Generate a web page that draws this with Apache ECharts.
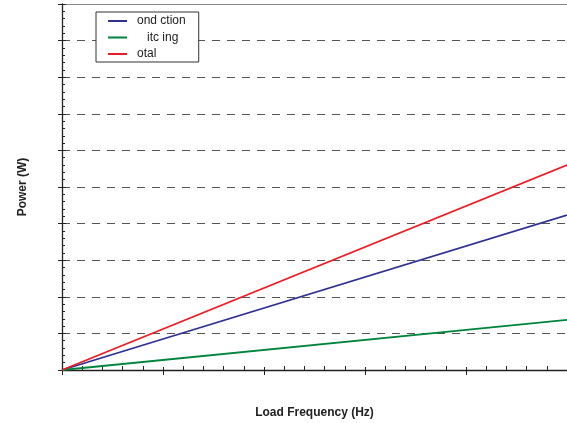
<!DOCTYPE html>
<html>
<head>
<meta charset="utf-8">
<script src="https://cdn.jsdelivr.net/npm/echarts@6/dist/echarts.min.js"></script>
<style>html,body{margin:0;padding:0;background:#fff;}#c{width:567px;height:423px;}</style>
</head>
<body>
<div id="c"></div>
<script>
var loadFreq = [0, 5];
var conduction = [0, 4.23];
var switching = [0, 1.37];
var total = [0, 5.60];
var seriesNames = ['ond ction', '   itc ing', 'otal'];

function pairs(xs, ys) { return xs.map(function (x, i) { return [x, ys[i]]; }); }

var chart = echarts.init(document.getElementById('c'), null, {renderer: 'canvas'});
var axisCol = '#222';
var gridBox = {left: 62, right: 0, top: 4, bottom: 53, outerBoundsMode: 'none', containLabel: false};
chart.setOption({
  animation: false,
  backgroundColor: '#fff',
  grid: [Object.assign({}, gridBox), Object.assign({}, gridBox)],
  legend: {
    orient: 'vertical', left: 96, top: 12, z: 10,
    padding: [3, 13, 2, 12],
    icon: 'rect',
    itemWidth: 19, itemHeight: 2, itemGap: 4.5,
    backgroundColor: '#fff',
    borderColor: '#333', borderWidth: 1,
    textStyle: {fontFamily: 'Liberation Sans, Arial', fontSize: 12, lineHeight: 12, color: '#222', padding: [0, 0, 0, 5]},
    data: seriesNames
  },
  xAxis: [{
    gridIndex: 0, type: 'value', min: 0, max: 5, interval: 1, position: 'bottom',
    name: 'Load Frequency (Hz)', nameLocation: 'middle', nameGap: 37,
    nameTextStyle: {fontFamily: 'Liberation Sans, Arial', fontWeight: 'bold', fontSize: 12, color: '#222'},
    axisLine: {show: true, onZero: false, lineStyle: {color: axisCol, width: 1.3}},
    axisTick: {show: true, inside: true, length: 3, lineStyle: {color: axisCol}},
    minorTick: {show: true, splitNumber: 5, length: 4, lineStyle: {color: axisCol}},
    axisLabel: {show: false}, splitLine: {show: false}
  }, {
    gridIndex: 1, type: 'value', min: 0, max: 5, interval: 1, position: 'bottom',
    axisLine: {show: false, onZero: false},
    axisTick: {show: true, inside: false, length: 5, lineStyle: {color: axisCol}},
    axisLabel: {show: false}, splitLine: {show: false}
  }, {
    gridIndex: 1, type: 'value', min: 0, max: 5, interval: 1, position: 'top',
    axisLine: {show: true, onZero: false, lineStyle: {color: '#888', width: 1}},
    axisTick: {show: false}, axisLabel: {show: false}, splitLine: {show: false}
  }],
  yAxis: [{
    gridIndex: 0, type: 'value', min: 0, max: 10, interval: 1, position: 'left',
    name: 'Power (W)', nameLocation: 'middle', nameGap: 33, nameRotate: 90,
    nameTextStyle: {fontFamily: 'Liberation Sans, Arial', fontWeight: 'bold', fontSize: 12, color: '#222'},
    axisLine: {show: true, onZero: false, lineStyle: {color: axisCol, width: 1.3}},
    axisTick: {show: true, inside: true, length: 4, lineStyle: {color: axisCol}},
    minorTick: {show: true, splitNumber: 5, length: 3, lineStyle: {color: axisCol}},
    axisLabel: {show: false},
    splitLine: {show: true, showMinLine: false, showMaxLine: false, lineStyle: {color: '#555', type: [8, 7], width: 1}}
  }, {
    gridIndex: 1, type: 'value', min: 0, max: 10, interval: 1, position: 'left',
    axisLine: {show: false, onZero: false},
    axisTick: {show: true, inside: false, length: 4, lineStyle: {color: axisCol}},
    axisLabel: {show: false}, splitLine: {show: false}
  }],
  series: [
    {name: seriesNames[0], type: 'line', symbol: 'none', data: pairs(loadFreq, conduction), lineStyle: {color: '#2e3192', width: 1.8}, itemStyle: {color: '#2e3192'}, z: 3},
    {name: seriesNames[1], type: 'line', symbol: 'none', data: pairs(loadFreq, switching), lineStyle: {color: '#00843d', width: 1.8}, itemStyle: {color: '#00843d'}, z: 3},
    {name: seriesNames[2], type: 'line', symbol: 'none', data: pairs(loadFreq, total), lineStyle: {color: '#ed1c24', width: 1.8}, itemStyle: {color: '#ed1c24'}, z: 3}
  ]
});
</script>
</body>
</html>
